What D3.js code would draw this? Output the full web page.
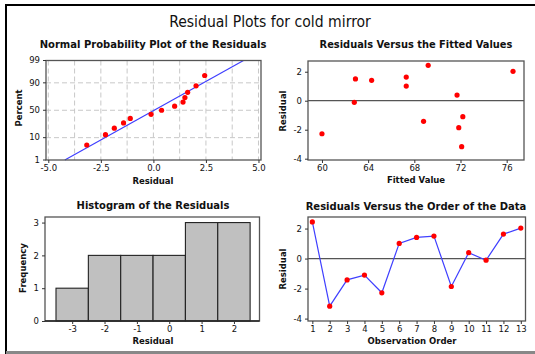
<!DOCTYPE html>
<html><head><meta charset="utf-8">
<script src="https://cdn.jsdelivr.net/npm/d3@7"></script>
<style>
html,body{margin:0;padding:0;background:#fff;}
svg{display:block;}
text{font-family:"DejaVu Sans",Verdana,sans-serif;fill:#111;}
.cond{font-family:"DejaVu Sans Condensed","Liberation Sans Narrow","Liberation Sans",sans-serif;font-stretch:condensed;}
</style></head>
<body>
<svg id="c" width="535" height="354"></svg>
<script>
// ---- data ----
const observation = [1,2,3,4,5,6,7,8,9,10,11,12,13];
const residuals = [2.44,-3.17,-1.42,-1.1,-2.28,1.01,1.41,1.5,-1.86,0.39,-0.11,1.63,2.03];
const fitted = [69.2,72.1,68.8,72.2,60.0,67.3,64.3,62.9,71.85,71.7,62.8,67.3,76.55];
const nppPercent = [5.2,12.7,20.1,27.6,35.1,42.5,50.0,57.5,64.9,72.4,79.9,87.3,94.8];
const histBins = [-3,-2,-1,0,1,2];
const histCounts = [1,2,2,2,3,3];
const nppXTicks = [-5,-2.5,0,2.5,5];
const nppYTicks = [1,10,50,90,99];
const fitXTicks = [60,64,68,72,76];
const resYTicks = [-4,-2,0,2];
const freqTicks = [0,1,2,3];

const svg = d3.select("#c");
const RED = "#ff0000", BLUE = "#3f3fff", FRAME = "#555";

// outer border
svg.append("line").attr("x1",5).attr("x2",535).attr("y1",5).attr("y2",5).attr("stroke","#000").attr("stroke-width",2);
svg.append("line").attr("x1",6).attr("x2",6).attr("y1",4).attr("y2",354).attr("stroke","#000").attr("stroke-width",2);
svg.append("line").attr("x1",6).attr("x2",535).attr("y1",352.5).attr("y2",352.5).attr("stroke","#888").attr("stroke-width",3);

function fitText(sel, w){
  const l = sel.node().getComputedTextLength();
  const fs = parseFloat(sel.attr("font-size"));
  sel.attr("font-size", fs*w/l);
}
const hy = f => (v => f(v).replace("\u2212","-"));

// main title
fitText(svg.append("text").attr("class","cond").attr("x",270).attr("y",27).attr("text-anchor","middle")
  .attr("font-size",16).text("Residual Plots for cold mirror"), 202);

// probit
function probit(p){
  const a=[-3.969683028665376e+01,2.209460984245205e+02,-2.759285104469687e+02,1.383577518672690e+02,-3.066479806614716e+01,2.506628277459239e+00];
  const b=[-5.447609879822406e+01,1.615858368580409e+02,-1.556989798598866e+02,6.680131188771972e+01,-1.328068155288572e+01];
  const c=[-7.784894002430293e-03,-3.223964580411365e-01,-2.400758277161838e+00,-2.549671010322356e+00,4.374664141464968e+00,2.938163982698783e+00];
  const d=[7.784695709041462e-03,3.224671290700398e-01,2.445134137142996e+00,3.754408661907416e+00];
  const pl=0.02425, ph=1-pl; let q,r;
  if(p<pl){q=Math.sqrt(-2*Math.log(p));return (((((c[0]*q+c[1])*q+c[2])*q+c[3])*q+c[4])*q+c[5])/((((d[0]*q+d[1])*q+d[2])*q+d[3])*q+1);}
  if(p<=ph){q=p-0.5;r=q*q;return (((((a[0]*r+a[1])*r+a[2])*r+a[3])*r+a[4])*r+a[5])*q/(((((b[0]*r+b[1])*r+b[2])*r+b[3])*r+b[4])*r+1);}
  q=Math.sqrt(-2*Math.log(1-p));return -(((((c[0]*q+c[1])*q+c[2])*q+c[3])*q+c[4])*q+c[5])/((((d[0]*q+d[1])*q+d[2])*q+d[3])*q+1);
}

function panel(o){
  const g = svg.append("g");
  fitText(g.append("text").attr("class","cond").attr("x",o.tx).attr("y",o.ty).attr("text-anchor","middle")
    .attr("font-size",11).attr("font-weight","bold").text(o.title), o.tw);
  return g;
}
function frame(g,x0,x1,y0,y1){
  g.append("rect").attr("x",x0).attr("y",y0).attr("width",x1-x0).attr("height",y1-y0)
    .attr("fill","none").attr("stroke",FRAME).attr("stroke-width",1.3);
}
function xAxis(g, scale, ticks, y, fmt){
  const ax = g.append("g").attr("transform",`translate(0,${y})`)
    .call(d3.axisBottom(scale).tickValues(ticks).tickSize(3).tickPadding(2).tickFormat(hy(fmt)));
  ax.select(".domain").remove();
  ax.selectAll("line").attr("stroke","#333");
  ax.selectAll("text").attr("font-size",8.5).attr("font-family","DejaVu Sans").attr("fill","#111");
}
function yAxis(g, scale, ticks, x, fmt){
  const ax = g.append("g").attr("transform",`translate(${x},0)`)
    .call(d3.axisLeft(scale).tickValues(ticks).tickSize(3).tickPadding(3).tickFormat(hy(fmt)));
  ax.select(".domain").remove();
  ax.selectAll("line").attr("stroke","#333");
  ax.selectAll("text").attr("font-size",8.5).attr("font-family","DejaVu Sans").attr("fill","#111");
}
function xLabel(g,x,y,t){
  g.append("text").attr("x",x).attr("y",y).attr("text-anchor","middle").attr("font-size",8.5).attr("font-weight","bold").text(t);
}
function yLabel(g,x,y,t){
  g.append("text").attr("transform",`translate(${x},${y}) rotate(-90)`).attr("text-anchor","middle").attr("font-size",8.5).attr("font-weight","bold").text(t);
}

// ---------- Normal probability plot ----------
{
  const X0=46,X1=261,Y0=60.5,Y1=160;
  const g = panel({tx:153,ty:48,tw:227,title:"Normal Probability Plot of the Residuals"});
  const x = d3.scaleLinear().domain([-5.11,5.12]).range([X0,X1]);
  const yz = d3.scaleLinear().domain([probit(0.01),probit(0.99)]).range([Y1,Y0]);
  const y = p => yz(probit(p/100));
  const grid = g.append("g").attr("stroke","#c8c8c8").attr("stroke-dasharray","5,3").attr("stroke-width",1);
  d3.range(-5,5.01,1.25).forEach(v=>grid.append("line").attr("x1",x(v)).attr("x2",x(v)).attr("y1",Y0).attr("y2",Y1));
  [10,50,90].forEach(v=>grid.append("line").attr("x1",X0).attr("x2",X1).attr("y1",y(v)).attr("y2",y(v)));
  // fitted normal line
  const m = d3.mean(residuals), s = d3.deviation(residuals);
  const lp = [1,99];
  g.append("line").attr("x1",x(m+s*probit(lp[0]/100))).attr("y1",y(lp[0]))
    .attr("x2",x(m+s*probit(lp[1]/100))).attr("y2",y(lp[1])).attr("stroke",BLUE).attr("stroke-width",1.2);
  const sorted = d3.sort(residuals);
  g.selectAll("circle.p").data(sorted).join("circle").attr("cx",d=>x(d)).attr("cy",(d,i)=>y(nppPercent[i]))
    .attr("r",2.6).attr("fill",RED);
  frame(g,X0,X1,Y0,Y1);
  xAxis(g,x,nppXTicks,Y1,d3.format(".1f"));
  const ax = g.append("g").attr("transform",`translate(${X0},0)`);
  nppYTicks.forEach(v=>{
    ax.append("line").attr("x1",-3).attr("x2",0).attr("y1",y(v)).attr("y2",y(v)).attr("stroke","#333");
    ax.append("text").attr("x",-6).attr("y",y(v)).attr("dy","0.32em").attr("text-anchor","end").attr("font-size",8.5).text(v);
  });
  xLabel(g,153,183.5,"Residual");
  yLabel(g,22,108,"Percent");
}

// ---------- Residuals vs fitted ----------
{
  const X0=308,X1=524,Y0=61,Y1=160;
  const g = panel({tx:416,ty:48,tw:193,title:"Residuals Versus the Fitted Values"});
  const x = d3.scaleLinear().domain([58.79,77.5]).range([X0,X1]);
  const y = d3.scaleLinear().domain([-4.09,2.74]).range([Y1,Y0]);
  g.append("line").attr("x1",X0).attr("x2",X1).attr("y1",y(0)).attr("y2",y(0)).attr("stroke","#555").attr("stroke-width",1.2);
  g.selectAll("circle.p").data(residuals).join("circle").attr("cx",(d,i)=>x(fitted[i])).attr("cy",d=>y(d))
    .attr("r",2.6).attr("fill",RED);
  frame(g,X0,X1,Y0,Y1);
  xAxis(g,x,fitXTicks,Y1,d3.format("d"));
  yAxis(g,y,resYTicks,X0,d3.format("d"));
  xLabel(g,416,183,"Fitted Value");
  yLabel(g,286,111,"Residual");
}

// ---------- Histogram ----------
{
  const X0=45,X1=259.5,Y0=217,Y1=321;
  const g = panel({tx:153,ty:209,tw:153,title:"Histogram of the Residuals"});
  const x = d3.scaleLinear().domain([-3.84,2.79]).range([X0,X1]);
  const y = d3.scaleLinear().domain([0,3.17]).range([Y1,Y0]);
  g.selectAll("rect.b").data(histCounts).join("rect")
    .attr("x",(d,i)=>x(histBins[i]-0.5)).attr("width",(d,i)=>x(histBins[i]+0.5)-x(histBins[i]-0.5))
    .attr("y",d=>y(d)).attr("height",d=>y(0)-y(d))
    .attr("fill","#c0c0c0").attr("stroke","#222").attr("stroke-width",1.1);
  frame(g,X0,X1,Y0,Y1);
  g.append("line").attr("x1",X0).attr("x2",X1).attr("y1",Y1).attr("y2",Y1).attr("stroke","#222").attr("stroke-width",1.5);
  xAxis(g,x,histBins,Y1,d3.format("d"));
  yAxis(g,y,freqTicks,X0,d3.format("d"));
  xLabel(g,153,344,"Residual");
  yLabel(g,26,268,"Frequency");
}

// ---------- Residuals vs order ----------
{
  const X0=308,X1=525.5,Y0=217,Y1=321;
  const g = panel({tx:416,ty:209.5,tw:221,title:"Residuals Versus the Order of the Data"});
  const x = d3.scaleLinear().domain([0.75,13.27]).range([X0,X1]);
  const y = d3.scaleLinear().domain([-4.16,2.77]).range([Y1,Y0]);
  g.append("line").attr("x1",X0).attr("x2",X1).attr("y1",y(0)).attr("y2",y(0)).attr("stroke","#555").attr("stroke-width",1.2);
  g.append("path").datum(residuals).attr("fill","none").attr("stroke",BLUE).attr("stroke-width",1.2)
    .attr("d",d3.line().x((d,i)=>x(observation[i])).y(d=>y(d)));
  g.selectAll("circle.p").data(residuals).join("circle").attr("cx",(d,i)=>x(observation[i])).attr("cy",d=>y(d))
    .attr("r",2.6).attr("fill",RED);
  frame(g,X0,X1,Y0,Y1);
  xAxis(g,x,observation,Y1,d3.format("d"));
  yAxis(g,y,resYTicks,X0,d3.format("d"));
  xLabel(g,412,343.5,"Observation Order");
  yLabel(g,286,269,"Residual");
}
</script>
</body></html>
